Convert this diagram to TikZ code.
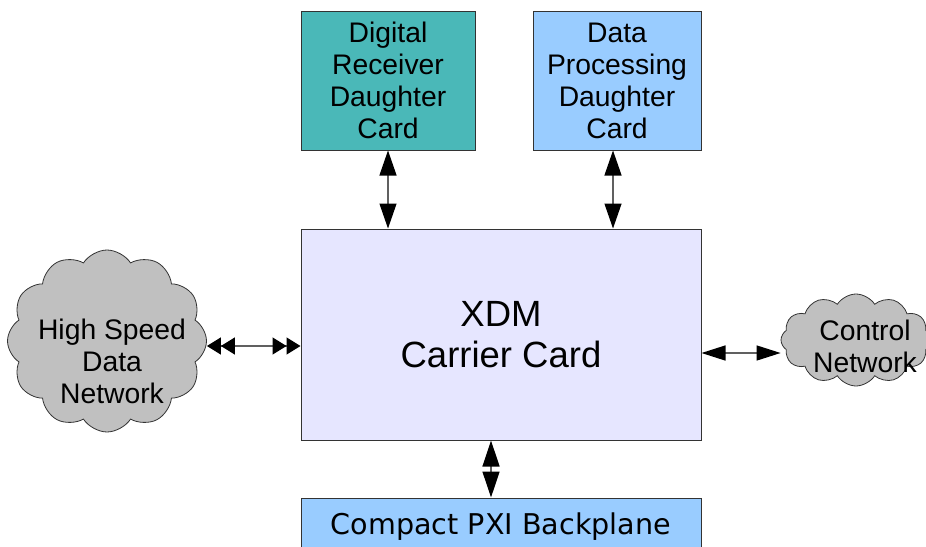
\documentclass[tikz,border=0pt]{standalone}
\usepackage{fontspec}
\setmainfont{Liberation Sans}
\newfontfamily\dejavu{DejaVu Sans}
\usetikzlibrary{arrows.meta,shapes.symbols}
\definecolor{teal1}{HTML}{4AB8B8}
\definecolor{lblue}{HTML}{99CCFF}
\definecolor{lav}{HTML}{E6E6FF}
\definecolor{cloudgray}{HTML}{C0C0C0}
\definecolor{edge}{HTML}{333333}
\definecolor{wire}{HTML}{606060}
\begin{document}
\begin{tikzpicture}[x=1pt,y=-1pt,
  card/.style={draw=edge, line width=1pt, align=center, inner sep=0pt,
    font=\fontsize{28.3}{32}\selectfont},
  cloudbox/.style={cloud, cloud puffs=12, cloud puff arc=115, cloud ignores aspect,
    draw=edge, line width=0.8pt, fill=cloudgray, inner sep=0pt},
  cloudtext/.style={align=center, inner sep=0pt, font=\fontsize{28.3}{32}\selectfont},
  vtip/.tip={Triangle[length=25pt,width=17pt,color=black]},
  htip/.tip={Triangle[length=24pt,width=15pt,color=black]},
  btip/.tip={Triangle[length=26pt,width=17pt,color=black]},
  wirestyle/.style={draw=wire, line width=1.3pt}
]
\useasboundingbox (0,0) rectangle (926,546);

\node[card, fill=teal1, minimum width=174pt, minimum height=139pt] (dr) at (388,80.5)
  {Digital\\Receiver\\Daughter\\Card};
\node[card, fill=lblue, minimum width=168pt, minimum height=139pt] (dp) at (617,80.5)
  {Data\\Processing\\Daughter\\Card};
\node[card, fill=lav, minimum width=400pt, minimum height=211pt,
  font=\fontsize{36.5}{41}\selectfont] (xdm) at (501,334.5)
  {XDM\\Carrier Card};
\node[card, fill=lblue, minimum width=400pt, minimum height=58pt,
  font=\dejavu\fontsize{28.6}{32}\selectfont] (pxi) at (501,527)
  {Compact PXI Backplane};

\node[cloudbox, minimum width=199pt, minimum height=182pt] (hsd) at (107,341) {};
\node[cloudtext] (hsdt) at (112,361) {High Speed\\Data\\Network};
\node[cloudbox, minimum width=150pt, minimum height=92pt] (cn) at (856,340) {};
\node[cloudtext] (cnt) at (865,346.5) {Control\\Network};

\draw[wirestyle, {vtip}-{vtip}] (dr.south) -- (dr.south |- xdm.north);
\draw[wirestyle, {vtip}-{vtip}] ([xshift=-4pt]dp.south) -- ([xshift=-4pt]dp.south |- xdm.north);
\draw[wirestyle, {btip}-{btip}] ([xshift=-10pt]xdm.south) -- ([xshift=-10pt]pxi.north);
\draw[wirestyle, {Triangle[length=14pt,width=17pt,color=black] Triangle[length=14pt,width=17pt,color=black]}-{Triangle[length=14pt,width=17pt,color=black] Triangle[length=14pt,width=17pt,color=black]}] ([yshift=-5pt]hsd.east) -- ([yshift=-5pt]hsd.east -| xdm.west);
\draw[wirestyle, {htip}-{htip}] ([yshift=-13pt]cn.west -| xdm.east) -- ([yshift=-13pt]cn.west);
\end{tikzpicture}
\end{document}
